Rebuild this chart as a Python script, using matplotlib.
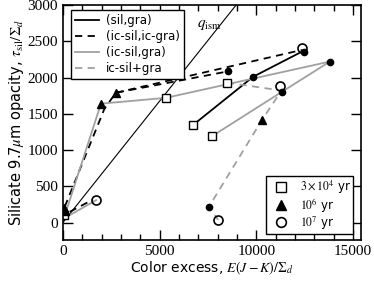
import matplotlib
matplotlib.use("Agg")
from matplotlib import pyplot as plt
from matplotlib.lines import Line2D

plt.rcParams['font.family'] = ['DejaVu Sans']
plt.rcParams['mathtext.fontset'] = 'stix'

# trajectories per model, (E(J-K)/Sigma_d, tau_sil/Sigma_d)
sil_gra_x = [[6700, 9830, 12450]]
sil_gra_y = [[1340, 2010, 2370]]

icsil_icgra_x = [[100, 2150, 2740, 8540], [2740, 12350], [360, 1550]]
icsil_icgra_y = [[220, 1570, 1790, 2085], [1790, 2380], [150, 317]]

icsil_gra_x = [[150, 1970, 5330, 13800], [7700, 11300, 13800], [200, 1720]]
icsil_gra_y = [[140, 1640, 1720, 2220], [1190, 1800, 2220], [80, 310]]

icsil_p_gra_x = [[8480, 11300, 10300, 7550, 8020]]
icsil_p_gra_y = [[1930, 1820, 1420, 220, 40]]

# time markers
sq_x = [6700, 5330, 7700, 8480, 60]
sq_y = [1340, 1720, 1190, 1930, 110]
tri_x = [1970, 2740, 10300, 60, 120]
tri_y = [1640, 1790, 1420, 200, 160]
circ_x = [12380, 1720, 8020, 11220]
circ_y = [2410, 310, 40, 1890]
dot_x = [9830, 8540, 12470, 13800, 11300, 7550, 100]
dot_y = [2010, 2085, 2355, 2220, 1800, 220, 120]

q_ism = 0.335

grey = '#a0a0a0'
dash = (0, (4, 3))

fig = plt.figure(figsize=(3.74, 2.91), dpi=100)
ax = fig.add_axes([0.168, 0.175, 0.797, 0.808])

ax.plot([0, 3000 / q_ism], [0, 3000], color='black', lw=0.8)
ax.text(6950, 2700, r'$q_{\rm ism}$', fontsize=11)

for xs, ys in zip(sil_gra_x, sil_gra_y):
    ax.plot(xs, ys, color='black', lw=1.3, ls='-')
for xs, ys in zip(icsil_icgra_x, icsil_icgra_y):
    ax.plot(xs, ys, color='black', lw=1.3, ls=dash)
for xs, ys in zip(icsil_gra_x, icsil_gra_y):
    ax.plot(xs, ys, color=grey, lw=1.3, ls='-')
for xs, ys in zip(icsil_p_gra_x, icsil_p_gra_y):
    ax.plot(xs, ys, color=grey, lw=1.3, ls=dash)

ax.plot(dot_x, dot_y, 'o', color='black', ms=4.5, ls='none')
ax.plot(sq_x, sq_y, 's', mfc='white', mec='black', mew=1.0, ms=6, ls='none')
ax.plot(tri_x, tri_y, '^', color='black', ms=6, ls='none')
ax.plot(circ_x, circ_y, 'o', mfc='none', mec='black', mew=1.2, ms=6.5, ls='none')

ax.set_xlim(0, 15400)
ax.set_ylim(-240, 3000)
ax.set_xticks([0, 5000, 10000, 15000])
ax.set_xticks(range(0, 15001, 1000), minor=True)
ax.set_yticks(range(0, 3001, 500))
ax.tick_params(which='both', direction='in', top=True, right=True)
ax.tick_params(which='major', length=7, width=1)
ax.tick_params(which='minor', length=4, width=1)
for lab in ax.get_xticklabels() + ax.get_yticklabels():
    lab.set_family('Liberation Serif')
    lab.set_fontsize(11)
for s in ax.spines.values():
    s.set_linewidth(1.2)

ax.set_xlabel(r'Color excess, $E(J-K)/\Sigma_d$', fontsize=10, labelpad=1)
ax.set_ylabel(r'Silicate 9.7$\mu$m opacity, $\tau_{\rm sil}/\Sigma_d$', fontsize=10.5, labelpad=1)

h1 = [Line2D([], [], color='black', lw=1.3),
      Line2D([], [], color='black', lw=1.3, ls=dash),
      Line2D([], [], color=grey, lw=1.3),
      Line2D([], [], color=grey, lw=1.3, ls=dash)]
l1 = ax.legend(h1, ['(sil,gra)', '(ic-sil,ic-gra)', '(ic-sil,gra)', 'ic-sil+gra'],
               loc='upper left', bbox_to_anchor=(0.027, 0.979), fontsize=8.5,
               fancybox=False, edgecolor='black', framealpha=1, borderpad=0.35,
               labelspacing=0.25, handlelength=2.0, handletextpad=0.6, borderaxespad=0)
l1.get_frame().set_linewidth(1.0)
ax.add_artist(l1)

h2 = [Line2D([], [], marker='s', mfc='white', mec='black', ls='none', ms=6.5),
      Line2D([], [], marker='^', color='black', ls='none', ms=6.5),
      Line2D([], [], marker='o', mfc='white', mec='black', mew=1.2, ls='none', ms=7)]
l2 = ax.legend(h2, [r'$3\times10^4$ yr', r'$10^6$ yr', r'$10^7$ yr'],
               loc='lower right', bbox_to_anchor=(0.973, 0.026), fontsize=8.5,
               fancybox=False, edgecolor='black', framealpha=1, borderpad=0.2,
               labelspacing=0.02, handletextpad=0.6, borderaxespad=0)
l2.get_frame().set_linewidth(1.0)

fig.savefig('out.png', dpi=100)
